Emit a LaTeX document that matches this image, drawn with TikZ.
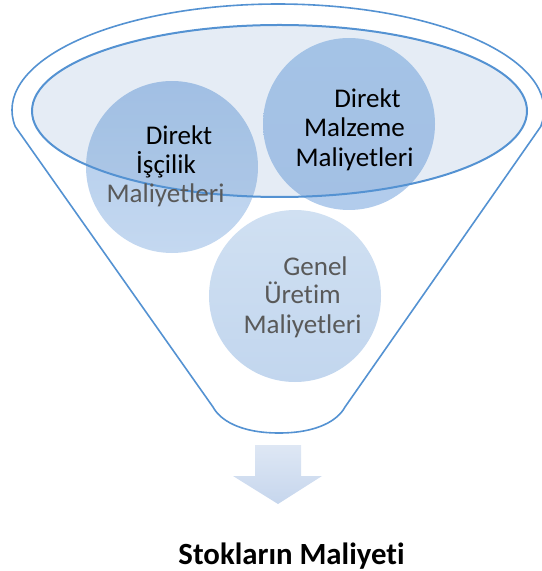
\documentclass[tikz,border=0pt]{standalone}
\usepackage{fontspec}
\setmainfont[Ligatures=NoCommon]{Carlito}
\usetikzlibrary{calc}

\definecolor{rimblue}{RGB}{84,146,210}
\definecolor{bowlblue}{RGB}{79,129,189}
\definecolor{txtgray}{RGB}{89,89,89}

\tikzset{
  rim/.style={draw=rimblue, line width=0.8pt},
  ball/.style={circle, minimum size=86pt, inner sep=0pt},
  lbl/.style={anchor=base, inner sep=0pt, font=\fontsize{13.5}{14.5}\selectfont},
}

\begin{document}
\begin{tikzpicture}[x=0.5pt, y=-0.5pt]
\useasboundingbox (0,0) rectangle (541,571);

% Centres of the rims and the balls
\coordinate (I) at (279.5,111);
\coordinate (L) at (172,167);
\coordinate (M) at (349,124);
\coordinate (G) at (295,296);

% Draw funnel body (outer rim, sides, bottom)
\draw[rim] (540.7,126.6) arc[start angle=-9, end angle=189, x radius=133pt, y radius=53pt]
  -- (213,407) .. controls (220,420) and (240,433) .. (279,433)
  .. controls (318,433) and (338,420) .. (345,407) -- cycle;

% Draw the three cost balls
\node[ball, top color={rgb,255:red,176;green,203;blue,235}, bottom color={rgb,255:red,196;green,216;blue,240}] (labour) at (L) {};
\node[ball, top color={rgb,255:red,180;green,207;blue,238}, middle color={rgb,255:red,155;green,190;blue,230}, bottom color={rgb,255:red,178;green,204;blue,236}] (material) at (M) {};
\node[ball, top color={rgb,255:red,208;green,224;blue,242}, bottom color={rgb,255:red,194;green,214;blue,238}] (overhead) at (G) {};

% Inner rim over the balls
\draw[rim, line width=1pt, fill=bowlblue, fill opacity=0.15] (I) ellipse [x radius=123.75pt, y radius=43pt];

% Labels for the balls
\node[lbl] (labour-1) at (179,145) {Direkt};
\node[lbl] (labour-2) at (166,174) {İşçilik};
\node[lbl, text=txtgray] (labour-3) at (165.5,203) {Maliyetleri};

\node[lbl] (material-1) at (367.5,108) {Direkt};
\node[lbl] (material-2) at (354.5,137) {Malzeme};
\node[lbl] (material-3) at (354.5,167) {Maliyetleri};

\node[lbl, text=txtgray] (overhead-1) at (315.5,275) {Genel};
\node[lbl, text=txtgray] (overhead-2) at (302.5,303) {Üretim};
\node[lbl, text=txtgray] (overhead-3) at (302.5,333) {Maliyetleri};

% Down arrow
\shade[top color={rgb,255:red,222;green,231;blue,244}, bottom color={rgb,255:red,198;green,214;blue,237}]
  (255,445) -- (301,445) -- (301,476) -- (322,476) -- (278,504) -- (233,476) -- (255,476) -- cycle;

% Result
\node[lbl, font=\fontsize{15.4}{18}\selectfont\bfseries] (result) at (291.5,564) {Stokların Maliyeti};

\end{tikzpicture}
\end{document}
